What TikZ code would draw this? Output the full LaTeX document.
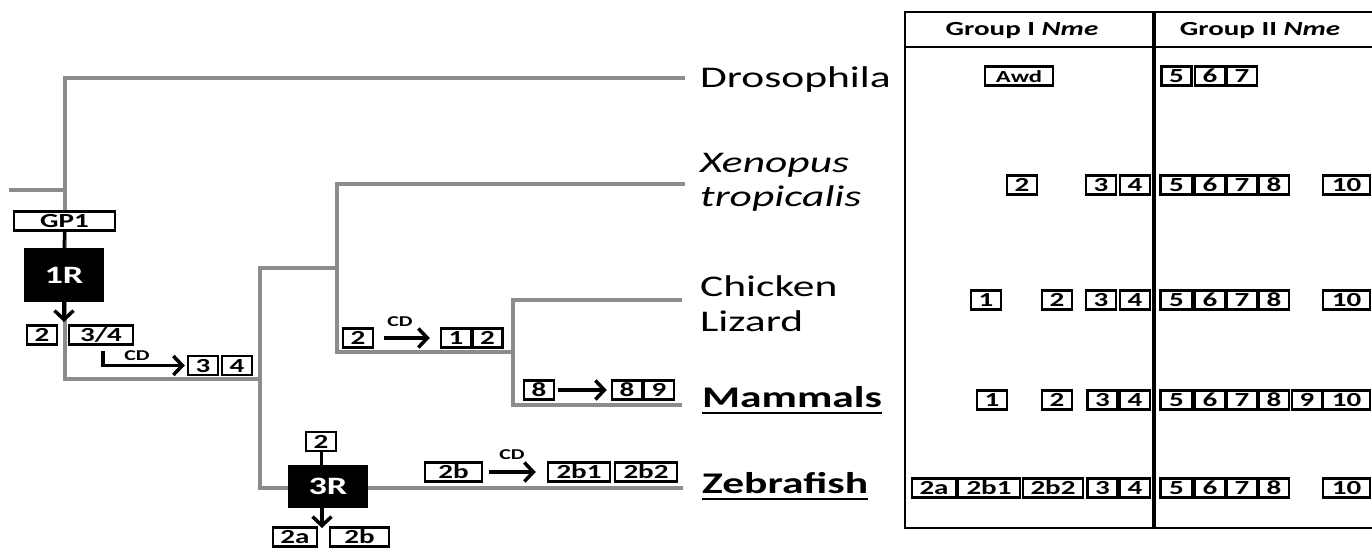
\documentclass[tikz,border=0pt]{standalone}
\usepackage{fontspec}
\setmainfont{Carlito}[FakeStretch=1.45]
\usetikzlibrary{arrows.meta}

\definecolor{treegray}{RGB}{140,140,140}

\tikzset{
  branch/.style={treegray,line width=4pt},
  gbox/.style={draw,line width=2.5pt,fill=white,inner xsep=7pt,inner ysep=2pt,
    minimum width=30pt,minimum height=19pt,text height=13pt,text depth=0pt,
    font=\bfseries\fontsize{20}{20}\selectfont},
  rbox/.style={fill=black,text=white,minimum width=80pt,minimum height=54pt,
    font=\bfseries\fontsize{25}{25}\selectfont},
  evo/.style={line width=3.5pt,-{Straight Barb[length=9pt,width=19pt]}},
  cdlab/.style={inner sep=0pt,font=\bfseries\fontsize{15}{15}\selectfont},
  species/.style={anchor=base west,inner sep=0pt,font=\fontsize{30}{34}\selectfont},
  bspecies/.style={species,font=\bfseries\fontsize{30}{34}\selectfont},
  head/.style={inner sep=0pt,font=\bfseries\fontsize{20}{20}\selectfont},
  tab/.style={line width=2.5pt},
}

\begin{document}
\begin{tikzpicture}[x=1pt,y=-1pt]
\useasboundingbox (0,0) rectangle (1372,548);
% tree (branch points and tips)
\coordinate (root) at (9,190);
\coordinate (nA) at (65,190);
\coordinate (nB) at (260,379);
\coordinate (nC) at (337,268);
\coordinate (nD) at (513,352);
\coordinate (tDro) at (685,78);
\coordinate (tXen) at (685,184);
\coordinate (tChi) at (682,300);
\coordinate (tMam) at (682,405);
\coordinate (tZeb) at (683,488);
\draw[branch] (root) -- (nA);
\draw[branch] (tDro) -| (nA) |- (nB);
\draw[branch] (nC) -| (nB) |- (tZeb);
\draw[branch] (tXen) -| (nC) |- (nD);
\draw[branch] (tChi) -| (nD) |- (tMam);

% 1R on the root
\node[gbox,minimum width=101pt] (gp1) at (64.5,221) {GP1};
\node[rbox] (r1) at (64,275) {1R};
\draw[line width=3pt] (gp1.south) -- (r1.north);
\coordinate (r1tip) at (64,322);
\draw[evo] (r1.south) -- (r1tip);
\node[gbox] (a2) at (42,335) {2};
\node[gbox,minimum width=64pt] (a34) at (101,335) {3/4};
\node[gbox] (a3) at (203,365.5) {3};
\node[gbox] (a4) at (237,365.5) {4};
\coordinate (cdA) at (103,351);
\draw[evo,shorten >=2pt] (cdA) |- (a3.west);
\node[cdlab] (cd1) at (137,356) {CD};

% Xenopus / amniote branch
\node[gbox] (x2) at (358,338) {2};
\node[gbox] (x1) at (456,338) {1};
\node[gbox] (x2n) at (487.5,338) {2};
\draw[evo,shorten <=10pt,shorten >=10pt] (x2.east) -- (x1.west);
\node[cdlab] (cd2) at (400,322) {CD};

% mammal branch
\node[gbox] (m8) at (539,390) {8};
\node[gbox] (m8n) at (627,390) {8};
\node[gbox] (m9) at (659,390) {9};
\draw[evo,shorten <=3pt,shorten >=4pt] (m8.east) -- (m8n.west);

% 3R on the fish branch
\node[gbox] (p2) at (321,441.5) {2};
\node[rbox,minimum height=43pt] (r3) at (328,486.5) {3R};
\draw[line width=3pt] (p2.south) -- (p2.south |- r3.north);
\coordinate (r3tip) at (322,528);
\draw[evo] (r3tip |- r3.south) -- (r3tip);
\node[gbox,minimum width=44pt] (p2a) at (295,537) {2a};
\node[gbox,minimum width=59pt] (p2b) at (359.5,537) {2b};
\node[gbox,minimum width=57pt] (z2b) at (453.5,472) {2b};
\node[gbox,minimum width=62pt] (z2b1) at (579,472) {2b1};
\node[gbox,minimum width=62pt] (z2b2) at (646,472) {2b2};
\draw[evo,shorten <=6pt,shorten >=11pt] (z2b.east) -- (z2b1.west);
\node[cdlab] (cd3) at (512,455) {CD};

% species
\node[species] (sDro) at (700,88) {Drosophila};
\node[species,font=\itshape\fontsize{30}{34}\selectfont] (sXen) at (700,172) {Xenopus};
\node[species,font=\itshape\fontsize{30}{34}\selectfont] (sTro) at (700,206) {tropicalis};
\node[species] (sChi) at (700,296) {Chicken};
\node[species] (sLiz) at (700,331) {Lizard};
\node[bspecies] (sMam) at (702,407) {Mammals};
\node[bspecies] (sZeb) at (702,493) {Zebrafish};
\draw[tab] ([yshift=-6pt]sMam.base west) -- ([yshift=-6pt]sMam.base east);
\draw[tab] ([yshift=-6pt]sZeb.base west) -- ([yshift=-6pt]sZeb.base east);

% table
\coordinate (tl) at (905,12);
\coordinate (bl) at (905,528);
\draw[tab] (1372,12) -- (tl) -- (bl) -- (1372,528);
\draw[tab] (905,47) -- (1372,47);
\draw[line width=4pt] (1154,12) -- (1154,528);
\node[head] (h1) at (1022,31) {Group I \textit{Nme}};
\node[head] (h2) at (1260,31) {Group II \textit{Nme}};

% group I Nme
\node[gbox,font=\bfseries\fontsize{17}{17}\selectfont,minimum width=68pt] (dro-awd) at (1019,76) {Awd};
\foreach \l/\x in {2/1022,3/1101,4/1135} \node[gbox] (xen-\l) at (\x,185) {\l};
\foreach \l/\x in {1/986,2/1057,3/1101,4/1135} \node[gbox] (chi-\l) at (\x,300) {\l};
\foreach \l/\x in {1/992,2/1057,3/1102.5,4/1135} \node[gbox] (mam-\l) at (\x,400) {\l};
\foreach \l/\x/\w in {2a/934/44,2b1/989/62,2b2/1053/60,3/1102.5/30,4/1135/30}
  \node[gbox,minimum width=\w pt] (zeb-\l) at (\x,488) {\l};

% group II Nme
\foreach \l/\x in {5/1176.5,6/1210,7/1242} \node[gbox] (dro-\l) at (\x,76) {\l};
\foreach \r/\y in {xen/185,chi/300,zeb/488} {
  \foreach \l/\x/\w in {5/1176.5/32,6/1210/30,7/1242/30,8/1274/30,10/1346.5/47}
    \node[gbox,minimum width=\w pt] (\r-\l) at (\x,\y) {\l};
}
\foreach \l/\x/\w in {5/1176.5/32,6/1210/30,7/1242/30,8/1274/30,9/1307/30,10/1346.5/47}
  \node[gbox,minimum width=\w pt] (mam-\l) at (\x,400) {\l};
\end{tikzpicture}
\end{document}
